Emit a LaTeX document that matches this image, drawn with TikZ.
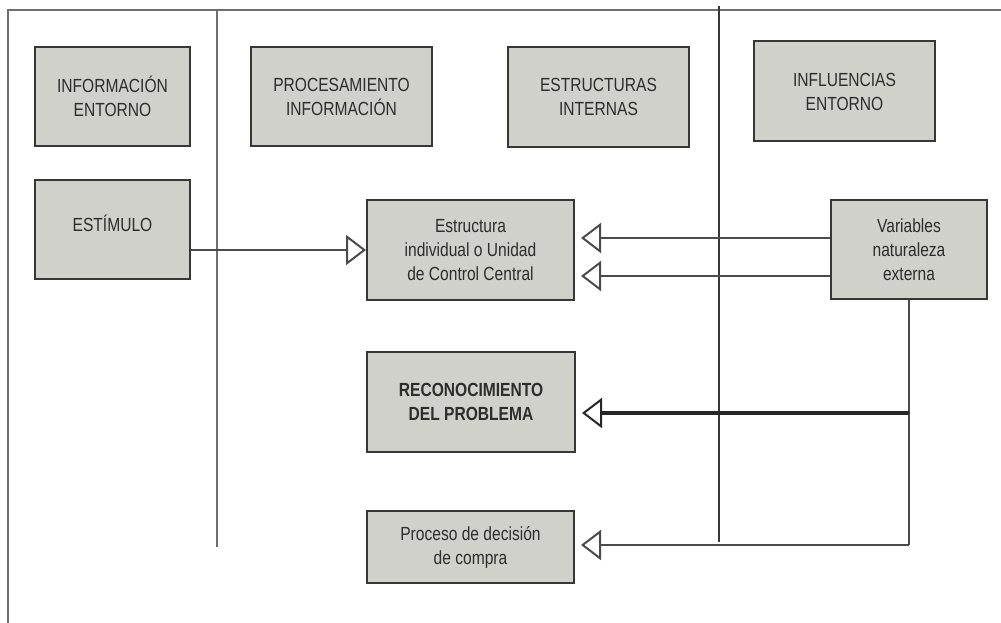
\documentclass[tikz,border=0pt]{standalone}
\usepackage{fontspec}
\setmainfont{Liberation Sans}[FakeStretch=0.82]
\usetikzlibrary{arrows.meta,calc}
\definecolor{boxfill}{RGB}{208,209,202}
\definecolor{boxline}{RGB}{55,55,55}
\definecolor{ink}{RGB}{45,45,45}
\definecolor{wire}{RGB}{75,75,75}
\definecolor{frameline}{RGB}{110,110,110}

\begin{document}
\begin{tikzpicture}[x=1pt,y=-1pt,
  box/.style={draw=boxline,fill=boxfill,line width=2pt,inner sep=0pt,
    align=center,text=ink,font=\fontsize{19}{24}\selectfont},
  txt/.style={inner sep=0pt,align=center,text=ink,font=\fontsize{19}{24}\selectfont},
  openhead/.style={-{Triangle[open,length=20pt,width=30pt,line width=2pt]}},
  conn/.style={openhead,draw=wire,line width=1.5pt},
  thickconn/.style={openhead,draw=black!85,line width=4pt},
  plain/.style={draw=wire,line width=1.5pt}]

\useasboundingbox (0,0) rectangle (1001,623);

% frame and column dividers
\draw[frameline,line width=2pt] (8,623) -- (8,10) -- (1001,10);
\draw[frameline,line width=2pt] (217,10) -- (217,547);
\draw[boxline,line width=1.5pt] (719,6) -- (719,542);

% column headers
\node[box,minimum width=155pt,minimum height=99pt] (info) at (112.5,96.5) {INFORMACIÓN\\ENTORNO};
\node[box,minimum width=181pt,minimum height=99pt] (proc) at (341.5,96.5) {PROCESAMIENTO\\INFORMACIÓN};
\node[box,minimum width=181pt,minimum height=100pt] (intern) at (598.5,97) {ESTRUCTURAS\\INTERNAS};
\node[box,minimum width=181pt,minimum height=100pt] (infl) at (844.5,91.5) {INFLUENCIAS\\ENTORNO};

% process boxes
\node[box,minimum width=155pt,minimum height=99pt] (estim) at (112.5,229.5) {};
\node[txt] (estimtxt) at (112.5,223) {ESTÍMULO};
\node[box,minimum width=207pt,minimum height=100pt] (estr) at (470.5,250) {Estructura\\individual o Unidad\\de Control Central};
\node[box,minimum width=156pt,minimum height=99pt] (vars) at (909,249.5) {Variables\\naturaleza\\externa};
\node[box,minimum width=208pt,minimum height=100pt,font=\fontsize{19}{24}\selectfont\bfseries] (recon) at (471,402) {RECONOCIMIENTO\\DEL PROBLEMA};
\node[box,minimum width=207pt,minimum height=72pt] (compra) at (470.5,547) {Proceso de decisión\\de compra};

% helper rows for the connectors
\coordinate (rowA) at (0,238);
\coordinate (rowB) at (0,276);
\coordinate (rowC) at (0,413);
\coordinate (rowD) at (0,545);
\coordinate (split) at (vars.south |- rowC);
\coordinate (corner) at (vars.south |- rowD);

% connectors
\draw[conn] (estim.east |- estr.west) -- (estr.west);
\draw[conn,shorten >=6pt] (vars.west |- rowA) -- (estr.east |- rowA);
\draw[conn,shorten >=6pt] (vars.west |- rowB) -- (estr.east |- rowB);
\draw[plain] (vars.south) -- (corner);
\draw[thickconn,shorten >=6pt] (split) -- (recon.east |- rowC);
\draw[conn,shorten >=6pt] (corner) -- (compra.east |- rowD);

\end{tikzpicture}
\end{document}
